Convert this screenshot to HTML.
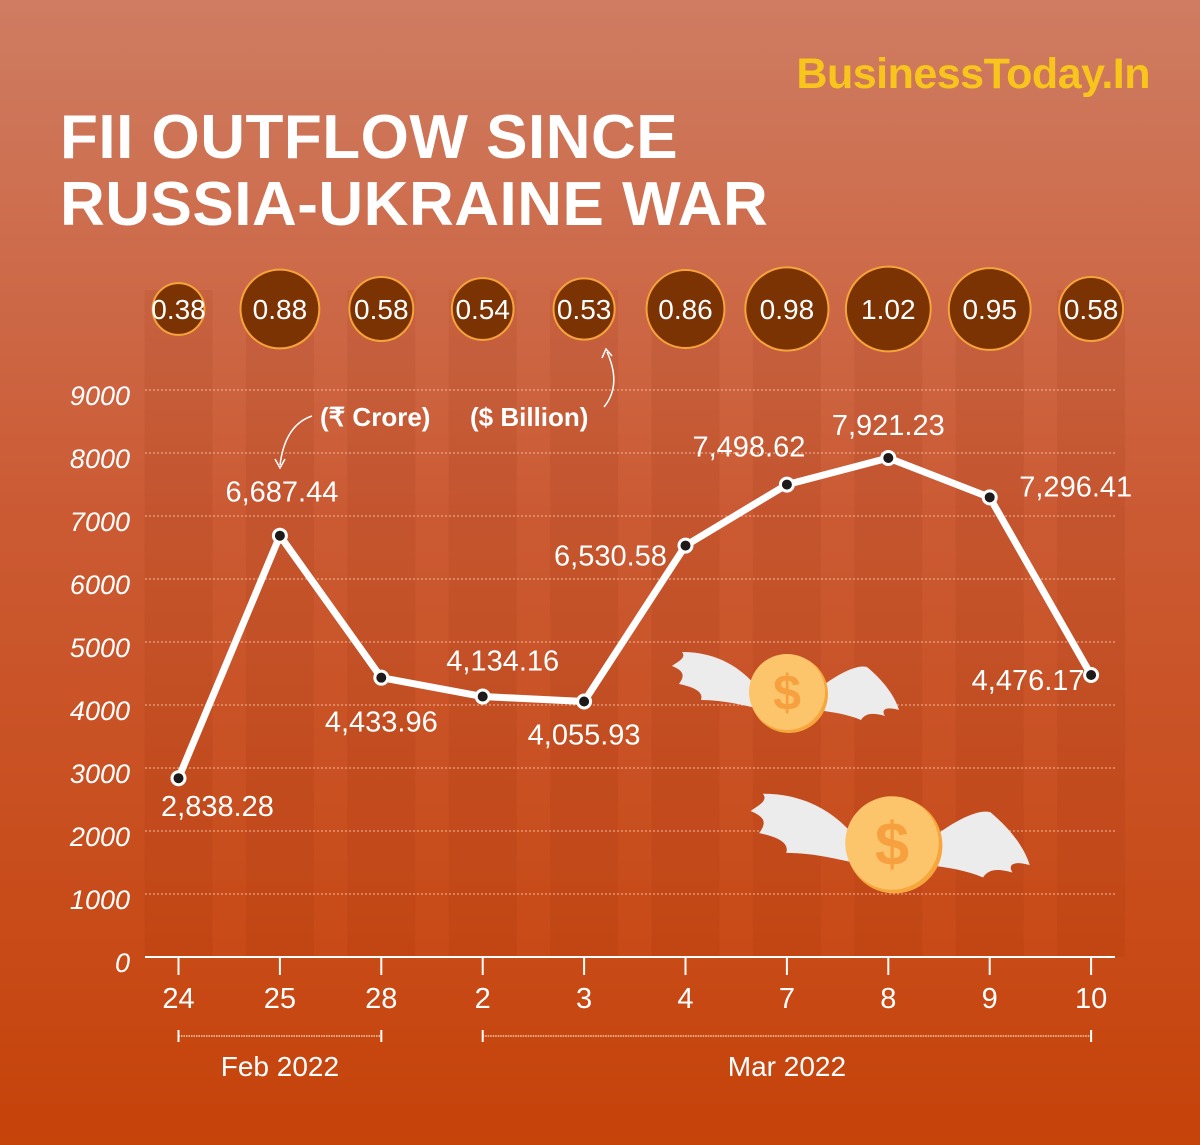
<!DOCTYPE html>
<html><head><meta charset="utf-8"><style>
body{margin:0;width:1200px;height:1145px;overflow:hidden}
svg{display:block;font-family:"Liberation Sans",sans-serif}
</style></head><body>
<svg id="c" width="1200" height="1145" viewBox="0 0 1200 1145">
<defs>
<linearGradient id="bg" x1="0" y1="0" x2="0" y2="1">
<stop offset="0" stop-color="#cf7c62"/><stop offset="0.45" stop-color="#cb5a33"/><stop offset="1" stop-color="#c6430a"/>
</linearGradient>
</defs>
<rect width="1200" height="1145" fill="url(#bg)"/>
<text x="1150" y="88" text-anchor="end" font-size="43" font-weight="bold" fill="#f8c51c" letter-spacing="-0.5">BusinessToday.In</text>
<text x="60" y="158" font-size="62" font-weight="bold" fill="#fff" letter-spacing="0.5">FII OUTFLOW SINCE</text>
<text x="60" y="225" font-size="62" font-weight="bold" fill="#fff" letter-spacing="0.5">RUSSIA-UKRAINE WAR</text>
<g id="bands"></g><g id="grid"></g><g id="axes"></g><g id="bubbles"></g>
<g>
<text x="320" y="426" font-size="26" font-weight="bold" fill="#fff">(₹ Crore)</text>
<text x="470" y="426" font-size="26" font-weight="bold" fill="#fff">($ Billion)</text>
<path d="M312,416 Q285,425 280,465" stroke="#fff" stroke-width="1.5" fill="none"/>
<path d="M275,459 L280,468 L285,459" stroke="#fff" stroke-width="1.5" fill="none"/>
<path d="M604,407 Q622,385 607,352" stroke="#fff" stroke-width="1.5" fill="none"/>
<path d="M602,358 L606,349 L612,356" stroke="#fff" stroke-width="1.5" fill="none"/>
</g>
<g id="coins"></g>
<g id="line"></g><g id="labels"></g>
</svg>
<script>
const categories=["24","25","28","2","3","4","7","8","9","10"];
const croreValues=[2838.28,6687.44,4433.96,4134.16,4055.93,6530.58,7498.62,7921.23,7296.41,4476.17];
const croreLabels=["2,838.28","6,687.44","4,433.96","4,134.16","4,055.93","6,530.58","7,498.62","7,921.23","7,296.41","4,476.17"];
const billionValues=[0.38,0.88,0.58,0.54,0.53,0.86,0.98,1.02,0.95,0.58];
const billionLabels=["0.38","0.88","0.58","0.54","0.53","0.86","0.98","1.02","0.95","0.58"];
const yTicks=[0,1000,2000,3000,4000,5000,6000,7000,8000,9000];

const NS="http://www.w3.org/2000/svg";
function mk(tag,attrs,parent,txt){const e=document.createElementNS(NS,tag);for(const k in attrs)e.setAttribute(k,attrs[k]);if(txt!==undefined)e.textContent=txt;parent.appendChild(e);return e;}
const x=i=>178.5+i*101.4;
const y=v=>957-v*(567/9000);
const g=id=>document.getElementById(id);

categories.forEach((c,i)=>{
  const r=mk('rect',{x:x(i)-34,y:290,width:68,height:667,fill:'#8a2500','fill-opacity':0.09},g('bands'));
  
  
});
yTicks.forEach(t=>{
  if(t>0){const l=mk('line',{x1:145,x2:1115,y1:y(t),y2:y(t),stroke:'#f3b89a','stroke-width':1,'stroke-dasharray':'2 2'},g('grid'));
  
  }
  const tx=mk('text',{x:130,y:y(t)+15,'text-anchor':'end','font-size':27,'font-style':'italic',fill:'#fff'},g('axes'),String(t));
  
  
});
const ax=mk('line',{x1:145,x2:1115,y1:957,y2:957,stroke:'#fff','stroke-width':2},g('axes'));


categories.forEach((c,i)=>{
  mk('line',{x1:x(i),x2:x(i),y1:957,y2:975,stroke:'#fff','stroke-width':2},g('axes'));
  const t=mk('text',{x:x(i),y:1008,'text-anchor':'middle','font-size':29,fill:'#fff'},g('axes'),c);
  
  
});
[[0,2,'Feb 2022'],[3,9,'Mar 2022']].forEach(([a,b,lab])=>{
  mk('line',{x1:x(a),x2:x(b),y1:1036,y2:1036,stroke:'#f6cdb5','stroke-width':1.5,'stroke-dasharray':'1.5 1'},g('axes'));
  mk('line',{x1:x(a),x2:x(a),y1:1030,y2:1042,stroke:'#fff','stroke-width':2},g('axes'));
  mk('line',{x1:x(b),x2:x(b),y1:1030,y2:1042,stroke:'#fff','stroke-width':2},g('axes'));
  const t=mk('text',{x:(x(a)+x(b))/2,y:1076,'text-anchor':'middle','font-size':28,fill:'#fff'},g('axes'),lab);
  
  
});
billionValues.forEach((v,i)=>{
  const r=42*Math.sqrt(v);
  const c=mk('circle',{cx:x(i),cy:309,r:r,fill:'#7b3303',stroke:'#f6a43a','stroke-width':2},g('bubbles'));
  
  
  const t=mk('text',{x:x(i),y:319,'text-anchor':'middle','font-size':28,fill:'#fff'},g('bubbles'),billionLabels[i]);
  
  
});
function coin(cx,cy,s){
  const G=mk('g',{transform:`translate(${cx},${cy}) scale(${s})`},g('coins'));
  mk('path',{d:'M-30,-5 C-55,-35 -85,-40 -105,-40 C-100,-34 -110,-30 -115,-26 C-100,-20 -104,-14 -108,-8 C-88,-4 -84,2 -86,8 C-62,8 -42,14 -30,16 Z',fill:'#ececec'},G);
  mk('path',{d:'M30,-2 C50,-18 70,-28 80,-25 C98,-10 108,5 112,18 C98,14 94,18 98,24 C84,20 78,22 74,28 C60,22 45,20 30,18 Z',fill:'#ececec'},G);
  mk('circle',{cx:2,cy:2,r:39,fill:'#f7a63c'},G);
  mk('circle',{cx:0,cy:0,r:38,fill:'#fdc56b'},G);
  mk('text',{x:0,y:18,'text-anchor':'middle','font-size':50,'font-weight':'bold',fill:'#f7a040'},G,'$');
}
coin(787,692,1);
coin(892,843,1.23);
const pts=croreValues.map((v,i)=>x(i)+','+y(v)).join(' ');
const pl=mk('polyline',{points:pts,fill:'none',stroke:'#fff','stroke-width':7,'stroke-linejoin':'round'},g('line'));


croreValues.forEach((v,i)=>{
  const c=mk('circle',{cx:x(i),cy:y(v),r:6.5,fill:'#1f1a1a',stroke:'#fff','stroke-width':3},g('line'));
  
  
});
const lblOff=[[39,38],[2,-34],[0,54],[20,-26],[0,43],[-75,20],[-38,-28],[0,-23],[86,-1],[-63,15]];
croreValues.forEach((v,i)=>{
  const t=mk('text',{x:x(i)+lblOff[i][0],y:y(v)+lblOff[i][1],'text-anchor':'middle','font-size':29,fill:'#fff'},g('labels'),croreLabels[i]);
  
  
});
</script>
</body></html>
